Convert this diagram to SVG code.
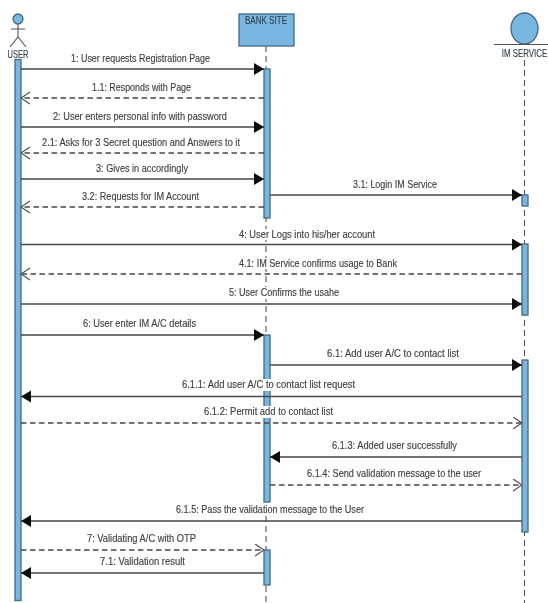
<svg xmlns="http://www.w3.org/2000/svg" width="548" height="603" viewBox="0 0 548 603">
<style>
text{font-family:"Liberation Sans",Arial,sans-serif;font-size:11px;fill:#404040;stroke:#404040;stroke-width:.15}
.n{font-size:10.500px;fill:#34434f;stroke:#34434f}
.box{fill:#7ab7e0;stroke:#3f6a85;stroke-width:1.300}
.life{stroke:#555;stroke-width:1.100;stroke-dasharray:6 4;fill:none}
.m{stroke:#484848;stroke-width:1.500;fill:none}
.d{stroke-dasharray:5.500 3.500}
.gap{fill:#fff}
</style>
<defs>
<filter id="soft" x="-2%" y="-2%" width="104%" height="104%"><feGaussianBlur stdDeviation="0.35"/></filter>
<marker id="solid" markerUnits="userSpaceOnUse" markerWidth="11" markerHeight="13" refX="10" refY="6" orient="auto"><path d="M0 0L10 6L0 12Z" fill="#111"/></marker>
<marker id="open" markerUnits="userSpaceOnUse" markerWidth="11" markerHeight="14" refX="10" refY="6.500" orient="auto"><path d="M1 0.500L10 6.500L1 12.500" fill="none" stroke="#555" stroke-width="1.300"/></marker>
</defs>
<rect width="548" height="603" fill="#fff"/>
<g filter="url(#soft)">
<g id="lifelines">
<path class="life" d="M266 46V603"/>
<path class="life" d="M524.500 60V603"/>
</g>
<g id="node-user">
<circle cx="18" cy="19" r="5" fill="#7ab7e0" stroke="#3f6a85" stroke-width="1.300"/>
<path d="M18 24V37M11 29H25M10 47L18 37L26 47" fill="none" stroke="#555" stroke-width="1.100"/>
<text class="n" x="18" y="57.500" text-anchor="middle" textLength="21" lengthAdjust="spacingAndGlyphs">USER</text>
<rect class="box" x="15" y="59.500" width="6" height="541"/>
</g>
<g id="node-bank">
<rect class="box" x="239" y="14" width="55" height="32"/>
<text class="n" x="266" y="24" text-anchor="middle" textLength="42" lengthAdjust="spacingAndGlyphs">BANK SITE</text>
<rect class="box" x="264" y="69" width="6" height="149"/>
<rect class="box" x="264" y="335" width="6" height="167"/>
<rect class="box" x="264" y="550" width="6" height="35"/>
</g>
<g id="node-im">
<ellipse cx="524.500" cy="28.500" rx="13.500" ry="15.500" fill="#7ab7e0" stroke="#3f6a85" stroke-width="1.300"/>
<path d="M494 44.500H548" stroke="#555" stroke-width="1.100"/>
<text class="n" transform="translate(524.500 57) scale(.75 1)" text-anchor="middle">IM SERVICE</text>
<rect class="box" x="522" y="195" width="6" height="11"/>
<rect class="box" x="522" y="244" width="6" height="71"/>
<rect class="box" x="522" y="360" width="6" height="172"/>
</g>
<g id="label-gaps">
<rect class="gap" x="239" y="229" width="54" height="11"/>
<rect class="gap" x="239" y="258" width="54" height="11"/>
<rect class="gap" x="229" y="287" width="64" height="12"/>
<rect class="gap" x="182" y="379" width="173" height="12"/>
<rect class="gap" x="204" y="406" width="129" height="12"/>
<rect class="gap" x="176" y="503" width="188" height="13"/>
</g>
<g id="connectors">
<path class="m" d="M21 69H264" marker-end="url(#solid)"/>
<path class="m d" d="M264 98H21" marker-end="url(#open)"/>
<path class="m" d="M21 127H264" marker-end="url(#solid)"/>
<path class="m d" d="M264 153H21" marker-end="url(#open)"/>
<path class="m" d="M21 179H264" marker-end="url(#solid)"/>
<path class="m" d="M270 195H522" marker-end="url(#solid)"/>
<path class="m d" d="M264 207H21" marker-end="url(#open)"/>
<path class="m" d="M21 244.500H522" marker-end="url(#solid)"/>
<path class="m d" d="M522 274H21" marker-end="url(#open)"/>
<path class="m" d="M21 304H522" marker-end="url(#solid)"/>
<path class="m" d="M21 335H264" marker-end="url(#solid)"/>
<path class="m" d="M270 365H522" marker-end="url(#solid)"/>
<path class="m" d="M522 396.500H21" marker-end="url(#solid)"/>
<path class="m d" d="M21 423H522" marker-end="url(#open)"/>
<path class="m" d="M522 457H270" marker-end="url(#solid)"/>
<path class="m d" d="M270 485H522" marker-end="url(#open)"/>
<path class="m" d="M522 521H21" marker-end="url(#solid)"/>
<path class="m d" d="M21 550H264" marker-end="url(#open)"/>
<path class="m" d="M264 573H21" marker-end="url(#solid)"/>
</g>
<g id="labels">
<text x="71" y="62" textLength="139" lengthAdjust="spacingAndGlyphs">1: User requests Registration Page</text>
<text x="92" y="91" textLength="99" lengthAdjust="spacingAndGlyphs">1.1: Responds with Page</text>
<text x="53" y="120" textLength="174" lengthAdjust="spacingAndGlyphs">2: User enters personal info with password</text>
<text x="42" y="146" textLength="198" lengthAdjust="spacingAndGlyphs">2.1: Asks for 3 Secret question and Answers to it</text>
<text x="96" y="172" textLength="92" lengthAdjust="spacingAndGlyphs">3: Gives in accordingly</text>
<text x="82" y="200" textLength="117" lengthAdjust="spacingAndGlyphs">3.2: Requests for IM Account</text>
<text x="353" y="188" textLength="84" lengthAdjust="spacingAndGlyphs">3.1: Login IM Service</text>
<text x="239" y="238" textLength="136" lengthAdjust="spacingAndGlyphs">4: User Logs into his/her account</text>
<text x="239" y="267" textLength="158" lengthAdjust="spacingAndGlyphs">4.1: IM Service confirms usage to Bank</text>
<text x="229" y="296" textLength="110" lengthAdjust="spacingAndGlyphs">5: User Confirms the usahe</text>
<text x="83" y="327" textLength="113" lengthAdjust="spacingAndGlyphs">6: User enter IM A/C details</text>
<text x="327" y="357" textLength="132" lengthAdjust="spacingAndGlyphs">6.1: Add user A/C to contact list</text>
<text x="182" y="388" textLength="173" lengthAdjust="spacingAndGlyphs">6.1.1: Add user A/C to contact list request</text>
<text x="204" y="415" textLength="129" lengthAdjust="spacingAndGlyphs">6.1.2: Permit add to contact list</text>
<text x="332" y="449" textLength="125" lengthAdjust="spacingAndGlyphs">6.1.3: Added user successfully</text>
<text x="307" y="477" textLength="174" lengthAdjust="spacingAndGlyphs">6.1.4: Send validation message to the user</text>
<text x="176" y="513" textLength="188" lengthAdjust="spacingAndGlyphs">6.1.5: Pass the validation message to the User</text>
<text x="87" y="542" textLength="109" lengthAdjust="spacingAndGlyphs">7: Validating A/C with OTP</text>
<text x="100" y="565" textLength="85" lengthAdjust="spacingAndGlyphs">7.1: Validation result</text>
</g>
</g>
</svg>
